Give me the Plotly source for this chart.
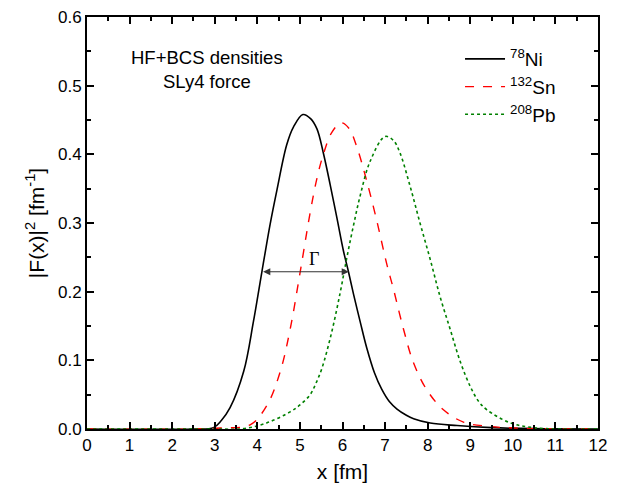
import plotly.graph_objects as go

# ---- data ----
ni_x = [0, 2.5, 2.97, 3.15, 3.36, 3.68, 3.91, 4.11, 4.30, 4.46, 4.69, 4.85, 5.07, 5.25, 5.40, 5.55,
        5.71, 5.87, 6.02, 6.14, 6.26, 6.42, 6.57, 6.75, 6.92, 7.10, 7.28, 7.50, 7.67, 8.06, 8.69,
        9.5, 10.5, 12.0]
ni_y = [0, 0, 0.002, 0.012, 0.031, 0.084, 0.157, 0.230, 0.298, 0.348, 0.414, 0.440, 0.458, 0.452, 0.437, 0.402,
        0.356, 0.307, 0.260, 0.229, 0.196, 0.155, 0.118, 0.082, 0.058, 0.040, 0.029, 0.020, 0.015, 0.0087, 0.005,
        0.002, 0.0005, 0]

sn_x = [0, 2.5, 3.13, 3.83, 4.23, 4.54, 4.77, 5.01, 5.24, 5.40, 5.55, 5.75, 5.97, 6.15, 6.34, 6.57,
        6.81, 7.04, 7.20, 7.43, 7.67, 7.98, 8.37, 8.84, 9.4, 10.0, 10.8, 12.0]
sn_y = [0, 0, 0.0015, 0.006, 0.035, 0.084, 0.145, 0.230, 0.315, 0.365, 0.400, 0.432, 0.446, 0.438, 0.410, 0.361,
        0.302, 0.240, 0.203, 0.146, 0.096, 0.057, 0.028, 0.010, 0.004, 0.0015, 0.0003, 0]

pb_x = [0, 3.0, 3.68, 4.23, 4.77, 5.00, 5.24, 5.38, 5.52, 5.75, 5.95, 6.10, 6.26, 6.42, 6.65, 7.00,
        7.20, 7.35, 7.59, 7.82, 8.06, 8.29, 8.53, 8.76, 9.0, 9.2, 9.39, 9.94, 10.56, 12.0]
pb_y = [0, 0, 0.0005, 0.009, 0.025, 0.035, 0.050, 0.067, 0.089, 0.142, 0.200, 0.249, 0.297, 0.341, 0.390, 0.426,
        0.420, 0.402, 0.353, 0.300, 0.247, 0.193, 0.145, 0.099, 0.062, 0.040, 0.028, 0.009, 0.0015, 0]

series_names = ["<sup>78</sup>Ni", "<sup>132</sup>Sn", "<sup>208</sup>Pb"]
gamma_y = 0.229
gamma_x0 = 4.1
gamma_x1 = 6.15

FONT = "Liberation Sans, Arial, sans-serif"

fig = go.Figure()
fig.add_trace(go.Scatter(x=ni_x, y=ni_y, mode="lines", name=series_names[0],
                         line=dict(color="black", width=1.6, shape="spline", smoothing=1.0)))
fig.add_trace(go.Scatter(x=sn_x, y=sn_y, mode="lines", name=series_names[1],
                         line=dict(color="#ff0000", width=1.4, dash="dash", shape="spline", smoothing=1.0)))
fig.add_trace(go.Scatter(x=pb_x, y=pb_y, mode="lines", name=series_names[2],
                         line=dict(color="#008000", width=1.6, dash="dot", shape="spline", smoothing=1.0)))

axis_common = dict(showline=True, linecolor="black", linewidth=2, mirror="ticks",
                   ticks="inside", ticklen=7, tickwidth=2, tickcolor="black",
                   showgrid=False, zeroline=False, automargin=False,
                   ticklabeloverflow="allow",
                   tickfont=dict(family=FONT, size=17, color="black"))

fig.update_xaxes(range=[0, 12], dtick=1, tick0=0,
                 minor=dict(dtick=0.5, ticks="inside", ticklen=4, tickwidth=1.5, tickcolor="black"),
                 title=dict(text="x [fm]", font=dict(family=FONT, size=21, color="black"), standoff=10),
                 **axis_common)
fig.update_yaxes(range=[0, 0.6], dtick=0.1, tick0=0, tickformat=".1f",
                 minor=dict(dtick=0.05, ticks="inside", ticklen=4, tickwidth=1.5, tickcolor="black"),
                 title=dict(text="|F(x)|<sup>2</sup> [fm<sup>-1</sup>]",
                            font=dict(family=FONT, size=21, color="black"), standoff=8),
                 **axis_common)

fig.add_annotation(x=gamma_x1, y=gamma_y, ax=gamma_x0, ay=gamma_y, xref="x", yref="y",
                   axref="x", ayref="y", text="", showarrow=True, arrowhead=2, startarrowhead=2,
                   arrowside="end+start", arrowsize=1.2, arrowwidth=1.2, arrowcolor="#333333")
fig.add_annotation(x=(gamma_x0 + gamma_x1) / 2 + 0.2, y=gamma_y + 0.018, xref="x", yref="y",
                   text="Γ", showarrow=False,
                   font=dict(family="Liberation Serif, Times New Roman, serif", size=18, color="black"))
fig.add_annotation(x=2.82, y=0.523, xref="x", yref="y", text="HF+BCS densities<br>SLy4 force",
                   showarrow=False, align="center",
                   font=dict(family=FONT, size=18.5, color="black"))

# page body has an 8px margin: the figure is offset by it, so size/margins compensate
fig.update_layout(
    width=611, height=483,
    margin=dict(l=79, r=21, t=9, b=62),
    paper_bgcolor="white", plot_bgcolor="white",
    showlegend=True,
    legend=dict(x=0.73, y=0.944, xanchor="left", yanchor="top",
                font=dict(family=FONT, size=19, color="black"),
                bgcolor="rgba(0,0,0,0)", tracegroupgap=0, itemwidth=40),
)

fig.write_html("out.html")
